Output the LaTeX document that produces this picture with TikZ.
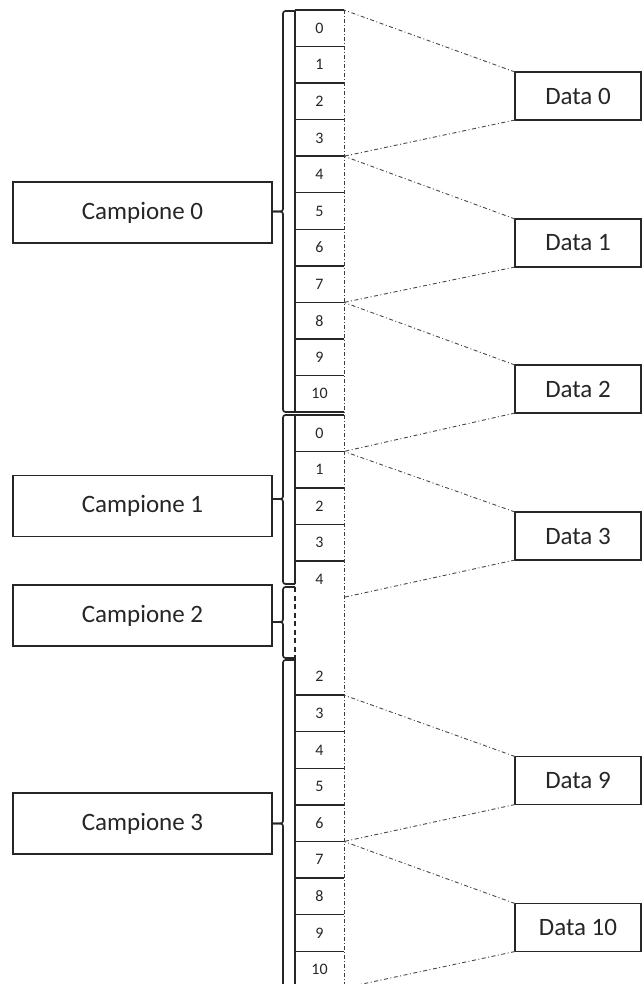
\documentclass[tikz,border=0pt]{standalone}
\usepackage{fontspec}
\setmainfont{Carlito}
\definecolor{ink}{HTML}{262626}
\begin{document}
\begin{tikzpicture}[x=1pt,y=-1pt,
  box/.style={draw=ink, line width=1.8pt, inner sep=0pt, outer sep=0pt, text=ink, font=\fontsize{25}{30}\selectfont},
  sampbox/.style={box, minimum width=259pt, minimum height=61pt},
  databox/.style={box, minimum width=126pt, minimum height=48pt},
  cell/.style={inner sep=0pt, outer sep=0pt, minimum width=49pt, minimum height=36.55pt, text=ink, font=\fontsize{16}{16}\selectfont},
  cellline/.style={draw=ink, line width=1.4pt},
  edge/.style={draw=ink!90, line width=0.9pt, dash pattern=on 4pt off 2pt on 1pt off 2pt},
  conn/.style={draw=ink!85, line width=0.9pt, dash pattern=on 4pt off 2.5pt on 1pt off 2.5pt},
  bracestyle/.style={draw=ink, line width=1.7pt, rounded corners=2.5pt},
  gapline/.style={draw=ink, line width=1.4pt, dash pattern=on 5pt off 3.5pt}]
\useasboundingbox (0,0) rectangle (643,984);
\clip (0,0) rectangle (643,984);

% cells, group 1 (Campione 0)
\foreach \i in {0,...,10} {
  \node[cell] (a\i) at (319.5,{10+36.55*\i+18.275}) {\i};
  \draw[cellline] (a\i.north west) -- (a\i.north east);
}
\draw[cellline] (a10.south west) -- (a10.south east);
\draw[cellline] (a0.north west) -- (a10.south west);

% cells, group 2 (Campione 1)
\foreach \i in {0,...,4} {
  \node[cell, minimum height=36.45pt] (b\i) at (319.5,{415+36.45*\i+18.225}) {\i};
  \draw[cellline] (b\i.north west) -- (b\i.north east);
}
\coordinate (b4l) at (295,584);
\draw[cellline] (b0.north west) -- (b4l);

% gap (Campione 2)
\coordinate (gtop) at (295,587);
\coordinate (gbot) at (295,659);
\draw[gapline] (gtop) -- (gbot);

% cells, group 3 (Campione 3)
\foreach \i in {2,...,10} {
  \node[cell, minimum height=36.6pt] (e\i) at (319.5,{658.5+36.6*(\i-2)+18.3}) {\i};
}
\foreach \i in {3,...,10} {
  \draw[cellline] (e\i.north west) -- (e\i.north east);
}
\draw[cellline] (e2.north west) -- (e10.south west);

% dotted right edge
\coordinate (rtop) at (344,10);
\coordinate (rbot) at (344,990);
\draw[edge] (rtop) -- (rbot);

% sample boxes
\node[sampbox] (c0) at (142.5,212.5) {Campione 0};
\node[sampbox] (c1) at (142.5,506) {Campione 1};
\node[sampbox] (c2) at (142.5,615.5) {Campione 2};
\node[sampbox] (c3) at (142.5,823.5) {Campione 3};

% braces
\coordinate (t0) at (295,11);   \coordinate (m0) at (283,211.5); \coordinate (u0) at (295,412);
\coordinate (t1) at (295,415);  \coordinate (m1) at (283,499);   \coordinate (u1) at (295,584);
\coordinate (t2) at (295,587);  \coordinate (m2) at (283,622);   \coordinate (u2) at (295,658);
\coordinate (t3) at (295,660);  \coordinate (m3) at (283,823.5); \coordinate (u3) at (295,1000);
\foreach \k in {0,1,2,3} {
  \draw[bracestyle] (t\k) -| (m\k) -- (c\k.east |- m\k);
  \draw[bracestyle] (u\k) -| (m\k) -- (c\k.east |- m\k);
}

% data boxes
\node[databox] (d0) at (578,96) {Data 0};
\node[databox] (d1) at (578,243) {Data 1};
\node[databox] (d2) at (578,389) {Data 2};
\node[databox] (d3) at (578,536) {Data 3};
\node[databox] (d9) at (578,780.5) {Data 9};
\node[databox] (d10) at (578,927.5) {Data 10};

% connectors
\draw[conn] (d0.north west) -- (a0.north east);
\draw[conn] (d0.south west) -- (a4.north east);
\draw[conn] (d1.north west) -- (a4.north east);
\draw[conn] (d1.south west) -- (a8.north east);
\draw[conn] (d2.north west) -- (a8.north east);
\draw[conn] (d2.south west) -- (b1.north east);
\draw[conn] (d3.north west) -- (b1.north east);
\draw[conn] (d3.south west) -- (b4.south east);
\draw[conn] (d9.north west) -- (e3.north east);
\draw[conn] (d9.south west) -- (e7.north east);
\draw[conn] (d10.north west) -- (e7.north east);
\draw[conn] (d10.south west) -- (e10.south east);
\end{tikzpicture}
\end{document}
